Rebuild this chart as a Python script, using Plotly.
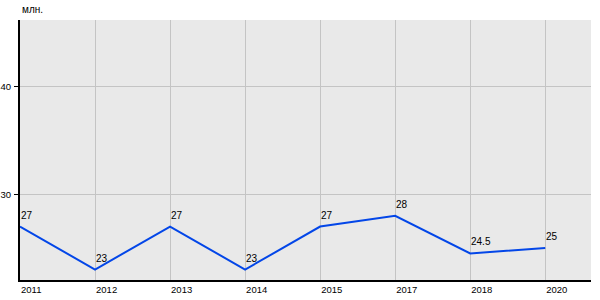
import plotly.graph_objects as go

years = ["2011", "2012", "2013", "2014", "2015", "2017", "2018", "2020"]
values = [27, 23, 27, 23, 27, 28, 24.5, 25]
labels = ["27", "23", "27", "23", "27", "28", "24.5", "25"]
ytick_vals = [30, 40]

xs = list(range(len(years)))
fig = go.Figure()
fig.add_trace(go.Scatter(
    x=xs, y=values, mode="lines",
    line=dict(color="#0346e8", width=2), hoverinfo="skip"))

annotations = [dict(text=t, x=x, y=v, xref="x", yref="y", xanchor="left",
                    yanchor="bottom", showarrow=False, xshift=-1, yshift=4,
                    font=dict(size=10, color="#000"))
               for x, v, t in zip(xs, values, labels)]
annotations.append(dict(text="млн.", xref="paper", yref="paper", x=0, y=1,
                        xanchor="left", yanchor="bottom", showarrow=False, yshift=3,
                        font=dict(size=10, color="#000")))

fig.update_layout(
    width=600, height=300, margin=dict(l=20, r=9, t=20, b=20, autoexpand=False),
    plot_bgcolor="#e9e9e9", paper_bgcolor="white", showlegend=False,
    font=dict(family="Liberation Sans, Arial", size=9.5, color="#000"),
    xaxis=dict(range=[0, 7.61], tickvals=xs, ticktext=years,
               showgrid=True, gridcolor="#c4c4c4", gridwidth=1, zeroline=False,
               showline=True, linecolor="black", linewidth=2, ticks="",
               ticklabelposition="outside right", ticklabelstandoff=0, automargin=False),
    yaxis=dict(range=[22.03, 46.2], tickvals=ytick_vals, showgrid=True,
               gridcolor="#c4c4c4", gridwidth=1, zeroline=False,
               showline=True, linecolor="black", linewidth=2,
               ticks="outside", ticklen=4, tickcolor="black", ticklabelstandoff=1,
               automargin=False),
    annotations=annotations,
)
fig.write_html("out.html")
